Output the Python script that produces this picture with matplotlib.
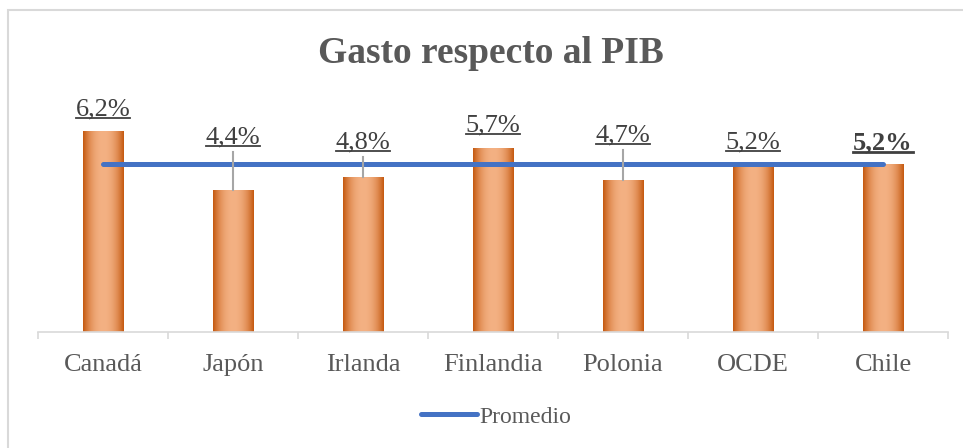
import matplotlib.pyplot as plt
import numpy as np
from matplotlib.patches import Rectangle
from matplotlib.lines import Line2D
from matplotlib.colors import to_rgb

# Data
paises = ['Canadá', 'Japón', 'Irlanda', 'Finlandia', 'Polonia', 'OCDE', 'Chile']
gasto = [6.2, 4.4, 4.8, 5.7, 4.7, 5.2, 5.2]
etiquetas = ['6,2%', '4,4%', '4,8%', '5,7%', '4,7%', '5,2%', '5,2%']
promedio = [5.2, 5.2, 5.2, 5.2, 5.2, 5.2, 5.2]

# label baselines (pixels from top of image) and leader lines
label_base_px = [115.5, 143.5, 148.5, 131.5, 141.5, 148.5, 149.5]
leader = [False, True, True, False, True, False, False]

W, H = 963, 448
plt.rcParams['font.family'] = ['Liberation Serif', 'DejaVu Serif']
fig = plt.figure(figsize=(W / 100, H / 100), dpi=100)

# outer border
fig.patches.append(Rectangle((8 / W, -0.1), 2, 1.1 - 10 / H,
                             transform=fig.transFigure, fill=False,
                             edgecolor='#d9d9d9', linewidth=1.5))

ax = fig.add_axes([38 / W, 1 - 332 / H, 910 / W, (332 - 105.6) / H])
x = np.arange(len(paises))

# bars with cylinder-like gradient
dark = np.array(to_rgb('#c55a11'))
light = np.array(to_rgb('#f4b183'))
u = np.linspace(0, 1, 64)
t = 1 - np.abs(2 * u - 1) ** 2.2
grad = dark[None, :] + (light - dark)[None, :] * t[:, None]
grad = grad[None, :, :]
bars = ax.bar(x, gasto, width=0.315, color='none', edgecolor='none', zorder=2)
for b in bars:
    x0, y0 = b.get_x(), b.get_y()
    im = ax.imshow(grad, extent=(x0, x0 + b.get_width(), y0, y0 + b.get_height()),
                   aspect='auto', zorder=2, interpolation='bilinear')
    im.set_clip_path(b)
ax.set_xlim(-0.5, len(paises) - 0.5)
ax.set_ylim(0, 7)

# average line
ax.plot(x, promedio, color='#4472c4', linewidth=3.6, solid_capstyle='round',
        zorder=4, label='Promedio')

# axes styling
for s in ['top', 'right', 'left']:
    ax.spines[s].set_visible(False)
ax.spines['bottom'].set_color('#d9d9d9')
ax.spines['bottom'].set_linewidth(1.2)
ax.set_yticks([])
ax.set_xticks(x)
ax.set_xticklabels(paises, fontsize=19, color='#595959')
ax.tick_params(axis='x', which='major', length=0, pad=15.5)
ax.set_xticks(np.arange(-0.5, len(paises)), minor=True)
ax.tick_params(axis='x', which='minor', length=5, width=1.2, color='#d9d9d9')

# data labels, underlined, with leader lines
fig.canvas.draw()
renderer = fig.canvas.get_renderer()
for i, (lab, py) in enumerate(zip(etiquetas, label_base_px)):
    bold = (i == len(paises) - 1)
    xd = ax.transData.transform((x[i], 0))[0] / W
    txt = fig.text(xd, 1 - py / H, lab, ha='center', va='baseline', fontsize=19,
                   color='#404040', fontweight='bold' if bold else 'normal')
    bb = txt.get_window_extent(renderer)
    uy = 1 - (py + 2.5) / H
    fig.lines.append(Line2D([bb.x0 / W, bb.x1 / W], [uy, uy], transform=fig.transFigure,
                            color='#404040', linewidth=2.0 if bold else 1.3))
    if leader[i]:
        top_px = H - ax.transData.transform((0, gasto[i]))[1]
        fig.lines.append(Line2D([xd, xd], [1 - (py + 8.5) / H, 1 - top_px / H],
                                transform=fig.transFigure, color='#a6a6a6',
                                linewidth=1.5, zorder=1))

# title
fig.text(491 / W, 1 - 63 / H, 'Gasto respecto al PIB', ha='center', va='baseline',
         fontsize=27, fontweight='bold', color='#595959')

# legend
fig.legend(loc='center', bbox_to_anchor=(496 / W, 1 - 417 / H), frameon=False,
           fontsize=17, handlelength=2.4, handletextpad=0.1, labelcolor='#595959')

fig.savefig('out.png', dpi=100)
